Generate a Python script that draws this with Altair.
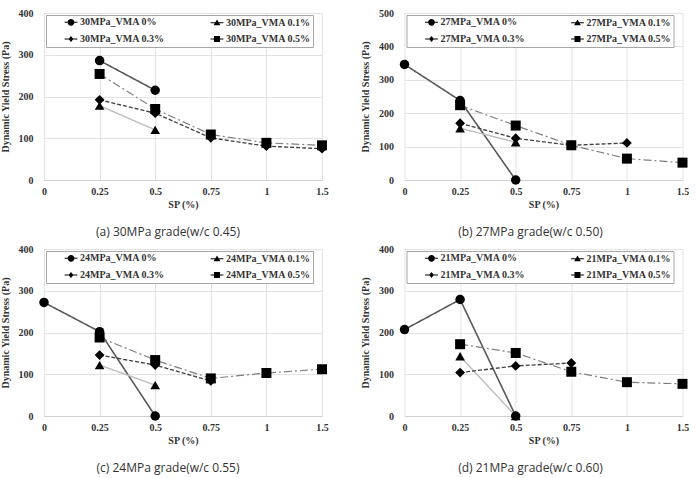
import altair as alt
import pandas as pd

# SP dosage categories on the x axis
SP_LABELS = ["0", "0.25", "0.5", "0.75", "1", "1.5"]
VMA_LEVELS = ["0%", "0.1%", "0.3%", "0.5%"]

# Dynamic yield stress (Pa) per SP dosage; None = not measured
grade30_vma0 = [None, 286, 215, None, None, None]
grade30_vma01 = [None, 178, 120, None, None, None]
grade30_vma03 = [None, 192, 160, 101, 81, 75]
grade30_vma05 = [None, 254, 170, 109, 89, 83]

grade27_vma0 = [346, 238, 0, None, None, None]
grade27_vma01 = [None, 155, 113, None, None, None]
grade27_vma03 = [None, 170, 125, 104, 111, None]
grade27_vma05 = [None, 224, 163, 104, 64, 52]

grade24_vma0 = [272, 202, 0, None, None, None]
grade24_vma01 = [None, 122, 74, None, None, None]
grade24_vma03 = [None, 146, 122, 84, None, None]
grade24_vma05 = [None, 188, 134, 90, 103, 112]

grade21_vma0 = [207, 279, 0, None, None, None]
grade21_vma01 = [None, 143, 0, None, None, None]
grade21_vma03 = [None, 104, 120, 127, None, None]
grade21_vma05 = [None, 172, 151, 106, 81, 77]

# Series styling (same order as VMA_LEVELS)
LINE_COLORS = ["#595959", "#bfbfbf", "#404040", "#7f7f7f"]
LINE_DASHES = [[1, 0], [1, 0], [4, 2], [8, 3, 2, 3]]
LINE_WIDTHS = [1.6, 1.2, 1.4, 1.4]
MARKER_SHAPES = ["circle", "triangle-up", "diamond", "square"]
MARKER_SIZES = [90, 100, 64, 81]
# legend keys: thin filled bar (the line) with the marker on it
KEY_BAR = "M-1.6,-0.12H1.6V0.12H-1.6Z"
KEY_SYMBOLS = [
    KEY_BAR + "M0.85,0A0.85,0.85,0,1,1,-0.85,0A0.85,0.85,0,1,1,0.85,0Z",
    KEY_BAR + "M0,-0.85L0.85,0.6L-0.85,0.6Z",
    KEY_BAR + "M0,-0.75L0.6,0L0,0.75L-0.6,0Z",
    KEY_BAR + "M-0.75,-0.75H0.75V0.75H-0.75Z",
]

SERIF = "Liberation Serif"
TEXT = "#333333"
GRID = "#e3e3e3"
W, H = 278, 167


def make_panel(prefix, series_values, y_max, caption, caption_dx):
    names = [f"{prefix}_VMA {v}" for v in VMA_LEVELS]
    rows = []
    for name, values in zip(names, series_values):
        for i, (sp, val) in enumerate(zip(SP_LABELS, values)):
            if val is not None:
                rows.append({"sp": sp, "idx": i, "stress": val, "series": name})
    df = pd.DataFrame(rows)

    base = alt.Chart(df).encode(
        x=alt.X(
            "sp:O",
            scale=alt.Scale(domain=SP_LABELS, type="point", padding=0),
            axis=alt.Axis(
                title="SP (%)", grid=True, gridColor=GRID, domainColor="#cfcfcf",
                ticks=False, labelAngle=0, labelPadding=6, labelFont=SERIF,
                labelFontWeight="bold", labelFontSize=10, labelColor=TEXT,
                titleFont=SERIF, titleFontWeight="bold", titleFontSize=10,
                titleColor=TEXT, titleY=24, titleBaseline="middle",
            ),
        ),
        y=alt.Y(
            "stress:Q",
            scale=alt.Scale(domain=[0, y_max], nice=False),
            axis=alt.Axis(
                title="Dynamic Yield Stress (Pa)", values=list(range(0, y_max + 1, 100)),
                grid=True, gridColor=GRID, domain=False, ticks=False,
                labelPadding=11, labelFont=SERIF, labelFontWeight="bold",
                labelFontSize=10, labelColor=TEXT, titleFont=SERIF,
                titleFontWeight="bold", titleFontSize=10, titleColor=TEXT,
                titleX=-34, titleBaseline="bottom",
            ),
        ),
    )

    lines = base.mark_line().encode(
        color=alt.Color("series:N", scale=alt.Scale(domain=names, range=LINE_COLORS), legend=None),
        strokeDash=alt.StrokeDash("series:N", scale=alt.Scale(domain=names, range=LINE_DASHES), legend=None),
        strokeWidth=alt.StrokeWidth("series:N", scale=alt.Scale(domain=names, range=LINE_WIDTHS), legend=None),
        order="idx:Q",
    )

    markers = base.mark_point(filled=True, color="black", opacity=1).encode(
        shape=alt.Shape("series:N", scale=alt.Scale(domain=names, range=MARKER_SHAPES), legend=None),
        size=alt.Size("series:N", scale=alt.Scale(domain=names, range=MARKER_SIZES), legend=None),
    )

    key = base.mark_point(filled=True, color="black", opacity=0).encode(
        shape=alt.Shape(
            "series:N",
            scale=alt.Scale(domain=names, range=KEY_SYMBOLS),
            legend=alt.Legend(
                title=" ", titleOrient="left", titlePadding=18, titleFontSize=10,
                orient="top-left", offset=2, columns=2, direction="horizontal",
                padding=2, strokeColor="#a6a6a6", fillColor="white",
                symbolSize=64, symbolFillColor="black", symbolOpacity=1,
                labelFont=SERIF, labelFontWeight="bold", labelFontSize=10,
                labelColor=TEXT, labelOffset=4, columnPadding=42, rowPadding=4,
                labelExpr="datum.label + '\u2003\u2003'",
            ),
        ),
    )

    return alt.layer(lines, markers, key).resolve_scale(shape="independent").properties(
        width=W,
        height=H,
        title=alt.TitleParams(
            caption, orient="bottom", frame="group", anchor="middle", offset=18,
            dx=caption_dx, font="Open Sans", fontSize=12, fontWeight="normal",
            color=TEXT, baseline="top",
        ),
    )


panel_a = make_panel("30MPa", [grade30_vma0, grade30_vma01, grade30_vma03, grade30_vma05],
                     400, "(a) 30MPa grade(w/c 0.45)", -15)
panel_b = make_panel("27MPa", [grade27_vma0, grade27_vma01, grade27_vma03, grade27_vma05],
                     500, "(b) 27MPa grade(w/c 0.50)", -13)
panel_c = make_panel("24MPa", [grade24_vma0, grade24_vma01, grade24_vma03, grade24_vma05],
                     400, "(c) 24MPa grade(w/c 0.55)", -15)
panel_d = make_panel("21MPa", [grade21_vma0, grade21_vma01, grade21_vma03, grade21_vma05],
                     400, "(d) 21MPa grade(w/c 0.60)", -13)

chart = (
    alt.concat(panel_a, panel_b, panel_c, panel_d, columns=2,
               spacing={"row": 69, "column": 82.5}, bounds="flush")
    .resolve_scale(color="independent", shape="independent", strokeDash="independent",
                   strokeWidth="independent", size="independent")
    .resolve_legend(shape="independent")
    .properties(padding={"left": 0, "top": 8, "right": 0, "bottom": 4}, background="white")
    .configure_view(stroke=None)
)

chart.save("out.html", embed_options={"renderer": "svg", "actions": False})
